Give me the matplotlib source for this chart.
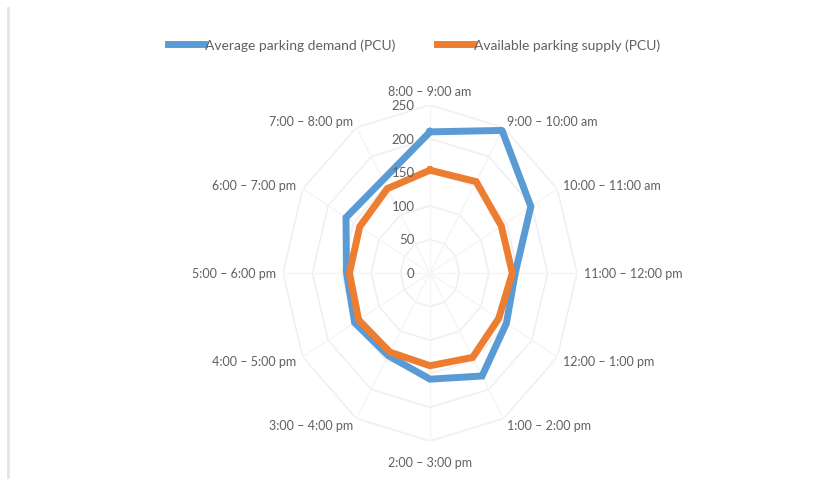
import numpy as np
import matplotlib.pyplot as plt
from matplotlib.lines import Line2D

# Hourly parking demand vs. supply, radar layout (clockwise from 8 am)
categories = [
    "8:00 – 9:00 am", "9:00 – 10:00 am", "10:00 – 11:00 am", "11:00 – 12:00 pm",
    "12:00 – 1:00 pm", "1:00 – 2:00 pm", "2:00 – 3:00 pm", "3:00 – 4:00 pm",
    "4:00 – 5:00 pm", "5:00 – 6:00 pm", "6:00 – 7:00 pm", "7:00 – 8:00 pm",
]
demand = [210, 245, 198, 145, 150, 177, 158, 142, 148, 142, 165, 160]
supply = [153, 157, 140, 140, 135, 145, 138, 136, 140, 137, 138, 145]
r_ticks = [0, 50, 100, 150, 200, 250]

BLUE = "#5b9bd5"
ORANGE = "#ed7d31"
GRID = "#f0f0f0"
SPOKE = "#f5f5f5"
TEXT = "#606060"

plt.rcParams["font.family"] = ["Lato", "DejaVu Sans"]

W, H = 840, 481
fig = plt.figure(figsize=(W / 100, H / 100), dpi=100)

# axes box sized so the outer ring sits at the 250 gridline
cx, cy, rx, ry = 430, 274, 147, 168
ax = fig.add_axes([(cx - rx) / W, (H - cy - ry) / H, 2 * rx / W, 2 * ry / H],
                  projection="polar")
ax.set_aspect("auto")
ax.set_theta_zero_location("N")
ax.set_theta_direction(-1)
ax.set_ylim(0, 250)
ax.grid(False)
ax.spines["polar"].set_visible(False)
ax.set_xticks([])
ax.set_yticks([])
ax.patch.set_alpha(0)

n = len(categories)
theta = np.arange(n) * 2 * np.pi / n
theta_c = np.append(theta, theta[0])

# polygon gridlines and spokes
for r in r_ticks[1:]:
    ax.plot(theta_c, [r] * (n + 1), color=GRID, lw=1.2, zorder=1)
for t in theta:
    ax.plot([t, t], [0, 250], color=SPOKE, lw=1, zorder=1)

ax.plot(theta_c, demand + demand[:1], color=BLUE, lw=5, zorder=3,
        solid_joinstyle="miter", label="Average parking demand (PCU)")
ax.plot(theta_c, supply + supply[:1], color=ORANGE, lw=5, zorder=4,
        solid_joinstyle="miter", label="Available parking supply (PCU)")

# radial value labels, set just left of the vertical axis
for r in r_ticks:
    ax.annotate(str(r), xy=(0, r), xytext=(-11, 0), textcoords="offset points",
                ha="right", va="center", fontsize=9.5, color=TEXT, zorder=5)

# category labels around the outside
for t, lab in zip(theta, categories):
    s = np.sin(t)
    r_lab = 262
    if abs(s) < 1e-6:
        ha = "center"
        if np.cos(t) > 0:
            va = "bottom"
        else:
            va, r_lab = "top", 272
    else:
        ha = "left" if s > 0 else "right"
        va = "center"
    ax.text(t, r_lab, lab, ha=ha, va=va, fontsize=9, color=TEXT, clip_on=False)

fig.legend(loc="center", bbox_to_anchor=(0.493, 1 - 46 / H), ncol=2,
           frameon=False, fontsize=10, handlelength=2.6, handletextpad=0.05,
           columnspacing=3.0, labelcolor=TEXT)

# thin frame edge on the left
fig.add_artist(Line2D([8 / W, 8 / W], [1 - 9 / H, 1 - 478 / H],
                      color="#e4e4e4", lw=2))

fig.savefig("out.png", dpi=100)
